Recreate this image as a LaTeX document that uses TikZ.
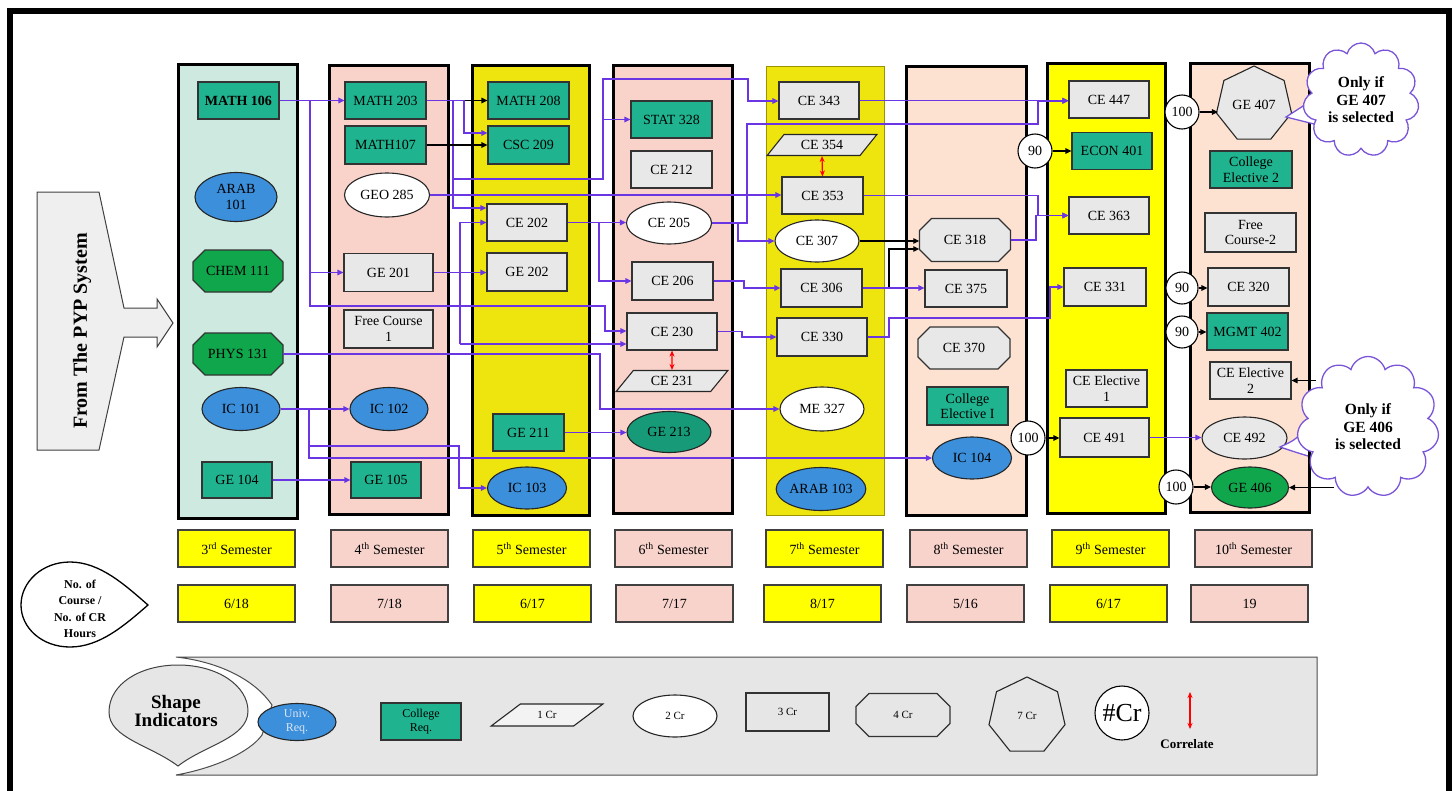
\documentclass[tikz,border=0pt]{standalone}
\usepackage{fontspec}
\setmainfont{Liberation Serif}
\usetikzlibrary{shapes.geometric,shapes.symbols,arrows.meta,calc}

\definecolor{cMint}{HTML}{CDE9E0}
\definecolor{cPink}{HTML}{F9D3CA}
\definecolor{cYel}{HTML}{EEE50F}
\definecolor{cOlive}{HTML}{9A9400}
\definecolor{cYelB}{HTML}{FFFF00}
\definecolor{cPeach}{HTML}{FDE2D2}
\definecolor{cBox}{HTML}{E8E8E8}
\definecolor{cTeal}{HTML}{1FB48F}
\definecolor{cGreen}{HTML}{0FA64C}
\definecolor{cDTeal}{HTML}{169A78}
\definecolor{cBlue}{HTML}{3B8FDB}
\definecolor{cLine}{HTML}{6A35E3}
\definecolor{cCloud}{HTML}{7A55D8}
\definecolor{cLeg}{HTML}{E6E6E6}
\definecolor{cSemY}{HTML}{FFFF00}
\definecolor{cSemP}{HTML}{F8D3CC}
\definecolor{cPyp}{HTML}{EFEFEF}
\definecolor{cUni}{HTML}{DCE6F4}

\newcommand{\octpath}[6]{%
 \filldraw[fill=#6, draw=black!80, line width=1.1pt]
  (#1-#3/2+#5,#2-#4/2) -- (#1+#3/2-#5,#2-#4/2) -- (#1+#3/2,#2-#4/2+#5) --
  (#1+#3/2,#2+#4/2-#5) -- (#1+#3/2-#5,#2+#4/2) -- (#1-#3/2+#5,#2+#4/2) --
  (#1-#3/2,#2+#4/2-#5) -- (#1-#3/2,#2-#4/2+#5) -- cycle;}

\tikzset{
 sz/.style 2 args={minimum width=#1pt, minimum height=#2pt},
 lbl/.style={font=\fontsize{14}{15.5}\selectfont, align=center, inner sep=0pt},
 rbox/.style={lbl, rectangle, draw=black!80, line width=1.1pt, fill=cBox},
 tbox/.style={rbox, fill=cTeal},
 ell/.style={lbl, ellipse, draw=black!85, line width=1.1pt},
 oct/.style={lbl, rectangle},
 para/.style={lbl, trapezium, trapezium left angle=45, trapezium right angle=135,
   trapezium stretches=true, draw=black!85, line width=1.1pt, fill=cBox},
 hept/.style={lbl, regular polygon, regular polygon sides=7, draw=black!85,
   line width=1.1pt, fill=cBox},
 crc/.style={lbl, circle, draw=black, line width=1.1pt, fill=white},
 col/.style={draw=black, line width=3pt},
 sem/.style={draw=black!75, line width=1.1pt, minimum width=117pt, minimum height=37pt,
   font=\fontsize{14}{16}\selectfont, inner sep=0pt},
 conn/.style={draw=cLine, line width=1.3pt, -{Triangle[length=6pt,width=5.5pt]}},
 bconn/.style={draw=black, line width=1.3pt, -{Triangle[length=6pt,width=5.5pt]}},
 corr/.style={draw=red, line width=1.2pt,
   {Stealth[length=6pt,width=5pt]}-{Stealth[length=6pt,width=5pt]}},
 cloudn/.style={cloud, cloud puffs=11, cloud ignores aspect, draw=cCloud,
   line width=1.3pt, fill=white, align=center,
   font=\bfseries\fontsize{15.5}{17.5}\selectfont, inner sep=0pt},
 bold/.style={font=\bfseries\fontsize{14}{15.5}\selectfont},
 leg/.style={font=\fontsize{12}{13.5}\selectfont}
}

\begin{document}
\begin{tikzpicture}[x=1pt,y=-1pt]
\useasboundingbox (0,0) rectangle (1456,790);
\draw[line width=6pt] (10,11) rectangle (1449,806);

% ---------- semester columns
\filldraw[col, fill=cMint] (178,64) rectangle (297,518);
\filldraw[col, fill=cPink] (329,65) rectangle (448,514);
\filldraw[col, fill=cYel] (472,65) rectangle (589,515);
\filldraw[col, fill=cPink] (613,65) rectangle (732,513);
\filldraw[fill=cYel, draw=cOlive, line width=1pt] (766,66) rectangle (884,515);
\filldraw[col, fill=cPeach] (906,66) rectangle (1026,515);
\filldraw[col, fill=cYelB] (1047,63) rectangle (1165,513);
\filldraw[col, fill=cPeach] (1190,63) rectangle (1309,512);

% ---------- From the PYP system
\filldraw[fill=cPyp, draw=black!75, line width=1pt]
 (37,192) -- (99,192) -- (124,308) -- (157,308) -- (157,299) -- (173,323) --
 (157,347) -- (157,337) -- (124,337) -- (99,450) -- (37,450) -- cycle;
\node[rotate=90, font=\bfseries\fontsize{20}{22}\selectfont] (pyp) at (82,331) {From The PYP System};

% ---------- 3rd semester
\node[tbox, sz={81}{37}, bold] (MATH106) at (238.5,100.5) {MATH 106};
\node[ell, fill=cBlue, sz={82}{49}] (ARAB101) at (236,197) {ARAB\\101};
\octpath{238}{271}{90}{42}{12}{cGreen}
\node[oct, sz={90}{42}] (CHEM111) at (238,271) {CHEM 111};
\octpath{238}{354}{90}{42}{12}{cGreen}
\node[oct, sz={90}{42}] (PHYS131) at (238,354) {PHYS 131};
\node[ell, fill=cBlue, sz={78}{43}] (IC101) at (241,409) {IC 101};
\node[tbox, sz={70}{36}] (GE104) at (237,480) {GE 104};

% ---------- 4th semester
\node[tbox, sz={81}{37}] (MATH203) at (385.5,100.5) {MATH 203};
\node[tbox, sz={81}{38}] (MATH107) at (385.5,145) {MATH107};
\node[ell, fill=white, sz={85}{44}] (GEO285) at (387,195) {GEO 285};
\node[rbox, sz={89}{38}] (GE201) at (388.5,272.5) {GE 201};
\node[rbox, sz={89}{38}] (FC1) at (388.5,329) {Free Course\\1};
\node[ell, fill=cBlue, sz={78}{43}] (IC102) at (389,409) {IC 102};
\node[tbox, sz={70}{36}] (GE105) at (386,480) {GE 105};

% ---------- 5th semester
\node[tbox, sz={81}{37}] (MATH208) at (528.5,100.5) {MATH 208};
\node[tbox, sz={81}{38}] (CSC209) at (528.5,145) {CSC 209};
\node[rbox, sz={80}{37}] (CE202) at (527,222.5) {CE 202};
\node[rbox, sz={80}{38}] (GE202) at (527,272) {GE 202};
\node[tbox, sz={71}{37}] (GE211) at (528.5,432.5) {GE 211};
\node[ell, fill=cBlue, sz={79}{42}] (IC103) at (527,488) {IC 103};

% ---------- 6th semester
\node[tbox, sz={81}{37}] (STAT328) at (671.5,119.5) {STAT 328};
\node[rbox, sz={81}{37}] (CE212) at (671.5,169.5) {CE 212};
\node[ell, fill=white, sz={85}{42}] (CE205) at (669,223) {CE 205};
\node[rbox, sz={81}{38}] (CE206) at (672.5,281) {CE 206};
\node[rbox, sz={90}{37}] (CE230) at (672,331.5) {CE 230};
\node[para, sz={112}{21}] (CE231) at (672,381) {CE 231};
\node[ell, fill=cDTeal, sz={84}{41}] (GE213) at (669,432) {GE 213};

% ---------- 7th semester
\node[rbox, sz={80}{37}] (CE343) at (819,100.5) {CE 343};
\node[para, sz={110}{21}] (CE354) at (822,145) {CE 354};
\node[rbox, sz={81}{37}] (CE353) at (822.5,195.5) {CE 353};
\node[ell, fill=white, sz={84}{42}] (CE307) at (817,241) {CE 307};
\node[rbox, sz={81}{38}] (CE306) at (821.5,288) {CE 306};
\node[rbox, sz={90}{38}] (CE330) at (822,337) {CE 330};
\node[ell, fill=white, sz={84}{44}] (ME327) at (822,409) {ME 327};
\node[ell, fill=cBlue, sz={79}{43}] (ARAB103) at (821,489) {ARAB 103};

% ---------- 8th semester
\octpath{965}{240}{91}{43}{12}{cBox}
\node[oct, sz={91}{43}] (CE318) at (965,240) {CE 318};
\node[rbox, sz={82}{37}] (CE375) at (966,288.5) {CE 375};
\octpath{964}{348}{92}{42}{12}{cBox}
\node[oct, sz={92}{42}] (CE370) at (964,348) {CE 370};
\node[tbox, sz={81}{38}] (CElec1) at (967.5,406) {College\\Elective I};
\node[ell, fill=cBlue, sz={79}{42}] (IC104) at (972,458) {IC 104};

% ---------- 9th semester
\node[rbox, sz={80}{37}] (CE447) at (1109,99.5) {CE 447};
\node[tbox, sz={80}{37}] (ECON401) at (1112,151) {ECON 401};
\node[rbox, sz={80}{37}] (CE363) at (1109,215.5) {CE 363};
\node[rbox, sz={82}{38}] (CE331) at (1105,287) {CE 331};
\node[rbox, sz={81}{37}] (CEE1) at (1106.5,388.5) {CE Elective\\1};
\node[rbox, sz={89}{39}] (CE491) at (1104.5,437.5) {CE 491};

% ---------- 10th semester
\node[hept, minimum size=77pt] (GE407) at (1254,104.5) {GE 407};
\node[tbox, sz={82}{37}] (CElec2) at (1251,169.5) {College\\Elective 2};
\node[rbox, sz={91}{39}] (FC2) at (1250.5,232.5) {Free\\Course-2};
\node[rbox, sz={81}{38}] (CE320) at (1248.5,287) {CE 320};
\node[tbox, sz={81}{37}] (MGMT402) at (1247.5,331.5) {MGMT 402};
\node[rbox, sz={81}{37}] (CEE2) at (1250.5,380.5) {CE Elective\\2};
\node[ell, fill=cBox, sz={85}{42}] (CE492) at (1244.5,438) {CE 492};
\node[ell, fill=cGreen, sz={77}{41}] (GE406) at (1250,487.5) {GE 406};

% ---------- credit circles
\node[crc, minimum size=34pt] (c100a) at (1182,112) {100};
\node[crc, minimum size=34pt] (c90a) at (1035,151) {90};
\node[crc, minimum size=32pt] (c90b) at (1182,288) {90};
\node[crc, minimum size=32pt] (c90c) at (1182,332) {90};
\node[crc, minimum size=34pt] (c100b) at (1028,438) {100};
\node[crc, minimum size=34pt] (c100c) at (1176,487) {100};

% ---------- clouds
\filldraw[draw=cCloud, fill=white, line width=1.3pt]
 (1312,100) .. controls (1300,108) .. (1286,117) .. controls (1300,121) .. (1314,124);
\node[cloudn, sz={116}{114}] (cloud1) at (1361,100) {Only if\\GE 407\\is selected};
\filldraw[draw=cCloud, fill=white, line width=1.3pt]
 (1306,428) .. controls (1295,440) .. (1280,447) .. controls (1295,452) .. (1308,456);
\node[cloudn, sz={142}{141}] (cloud2) at (1368,427) {Only if\\GE 406\\is selected};
\coordinate (cl2a) at (1316,380.5);
\coordinate (cl2b) at (1334,487.5);

% ---------- connectors
\draw[conn] (MATH106.east) -- (MATH203.west);
\draw[conn] (MATH106.east) -| (310,272.5) -- (GE201.west);
\draw[conn] (MATH106.east) -| (310,306) -- (605,306) |- (CE230.west |- 0,331);
\draw[bconn] (MATH203.east) -- (MATH208.west);
\draw[conn] (MATH203.east) -| (464,133) -- (CSC209.west |- 0,133);
\draw[conn] (MATH203.east) -| (453,208) -- (CE202.west |- 0,208);
\draw[conn] (MATH203.east) -| (453,179) -- (603,179) |- (STAT328.west);
\draw[conn] (MATH203.east) -| (453,179) -- (603,179) -- (603,79) -| (748,101) -- (CE343.west |- 0,101);
\draw[bconn] (MATH107.east) -- (CSC209.west |- MATH107.east);
\draw[conn] (GEO285.east) -- (CE353.west |- GEO285.east);
\coordinate (j460) at (460,344);
\draw[conn] (j460) |- (CE202.west);
\draw[conn] (j460) -- (CE230.west |- j460);
\draw[conn] (CE202.east) -- (CE205.west |- CE202.east);
\draw[conn] (CE202.east) -| (599,281) -- (CE206.west);
\draw[conn] (GE201.east) -- (GE202.west |- GE201.east);
\draw[conn] (CE205.east) -| (747,124) -- (1038,124) |- (CE447.west |- 0,101);
\draw[conn] (CE205.east) -| (738,241) -- (CE307.west);
\draw[conn] (CE343.east) -- (CE447.west |- CE343.east);
\draw[conn] (CE353.east) -| (1038,215.5) -- (CE363.west);
\draw[conn] (CE318.east) -| (1036,215.5) -- (CE363.west);
\draw[bconn] (CE307.east) -- (CE318.west |- CE307.east);
\draw[bconn] (CE306.east) -| (889,249) -- (CE318.west |- 0,249);
\draw[conn] (CE306.east) -- (CE375.west |- CE306.east);
\draw[conn] (CE206.east) -| (744,288) -- (CE306.west);
\draw[conn] (CE230.east) -| (742,337) -- (CE330.west);
\draw[conn] (CE330.east) -| (889,318) -- (1050,318) |- (CE331.west);
\draw[conn] (PHYS131.east) -| (600,409) -- (ME327.west);
\draw[conn] (IC101.east) -- (IC102.west);
\draw[conn] (IC101.east) -| (309,446) -- (459,446) |- (IC103.west);
\draw[conn] (IC101.east) -| (309,458) -- (IC104.west);
\draw[conn] (GE104.east) -- (GE105.west);
\draw[conn] (GE211.east) -- (GE213.west |- GE211.east);
\draw[conn] (CE491.east) -- (CE492.west |- CE491.east);
\draw[corr] (CE354.south) -- (CE353.north);
\draw[corr] (CE230.south) -- (CE231.north);
\draw[bconn] (c100a.east) -- (GE407.west |- c100a.east);
\draw[bconn] (c90a.east) -- (ECON401.west |- c90a.east);
\draw[bconn] (c90b.east) -- (CE320.west |- c90b.east);
\draw[bconn] (c90c.east) -- (MGMT402.west |- c90c.east);
\draw[bconn] (c100b.east) -- (CE491.west |- c100b.east);
\draw[bconn] (c100c.east) -- (GE406.west |- c100c.east);
\draw[bconn] (cl2a) -- (CEE2.east);
\draw[bconn] (cl2b) -- (GE406.east);

% ---------- semester rows
\node[sem, fill=cSemY] (s3) at (236.5,548.5) {3\textsuperscript{rd} Semester};
\node[sem, fill=cSemP] (s4) at (389.5,548.5) {4\textsuperscript{th} Semester};
\node[sem, fill=cSemY] (s5) at (531.5,548.5) {5\textsuperscript{th} Semester};
\node[sem, fill=cSemP] (s6) at (673.5,548.5) {6\textsuperscript{th} Semester};
\node[sem, fill=cSemY] (s7) at (824.5,548.5) {7\textsuperscript{th} Semester};
\node[sem, fill=cSemP] (s8) at (968.5,548.5) {8\textsuperscript{th} Semester};
\node[sem, fill=cSemY] (s9) at (1110.5,548.5) {9\textsuperscript{th} Semester};
\node[sem, fill=cSemP] (s10) at (1253.5,548.5) {10\textsuperscript{th} Semester};

\node[sem, fill=cSemY] (n3) at (236.5,603.5) {6/18};
\node[sem, fill=cSemP] (n4) at (389.5,603.5) {7/18};
\node[sem, fill=cSemY] (n5) at (532.5,603.5) {6/17};
\node[sem, fill=cSemP] (n6) at (674.5,603.5) {7/17};
\node[sem, fill=cSemY] (n7) at (822.5,603.5) {8/17};
\node[sem, fill=cSemP] (n8) at (965.5,603.5) {5/16};
\node[sem, fill=cSemY] (n9) at (1108.5,603.5) {6/17};
\node[sem, fill=cSemP] (n10) at (1249.5,603.5) {19};

% teardrop: No. of course
\draw[line width=1.3pt, fill=white]
 (148,605) .. controls (125,585) and (100,562) .. (70,562)
 .. controls (42,562) and (21,582) .. (21,605)
 .. controls (21,628) and (42,647) .. (70,647)
 .. controls (100,647) and (125,625) .. (148,605) -- cycle;
\node[font=\bfseries\fontsize{12}{16.5}\selectfont, align=center] (noc) at (80,609) {No. of\\Course /\\No. of CR\\Hours};

% ---------- legend
\filldraw[fill=cLeg, draw=black!70, line width=1pt]
 (176,657) -- (1317,657) -- (1317,775) -- (176,775)
 .. controls (215,768) and (250,752) .. (262,735) -- (272,705)
 .. controls (255,680) and (220,662) .. (176,657) -- cycle;
\filldraw[fill=cLeg, draw=black!75, line width=1pt]
 (178,766) .. controls (150,745) and (109,738) .. (109,712)
 .. controls (109,684) and (140,665) .. (178,665)
 .. controls (218,665) and (248,686) .. (248,711)
 .. controls (248,738) and (205,745) .. (178,766) -- cycle;
\node[font=\bfseries\fontsize{19}{18}\selectfont, align=center] (shapeind) at (176,711) {Shape\\Indicators};
\node[ell, fill=cBlue, sz={78}{37}, leg, text=cUni] (legU) at (297,722) {Univ.\\Req.};
\node[tbox, sz={80}{37}, leg] (legC) at (421,721.5) {College\\Req.};
\node[para, trapezium left angle=35, trapezium right angle=145, fill=cBox!50!white,
  sz={112}{22}, font=\fontsize{11}{12}\selectfont] (leg1) at (547,715) {1 Cr};
\node[ell, fill=white, sz={84}{42}, font=\fontsize{11}{12}\selectfont] (leg2) at (675,716) {2 Cr};
\node[rbox, fill=cLeg, sz={83}{38}, font=\fontsize{11}{12}\selectfont] (leg3) at (787.5,712) {3 Cr};
\octpath{903}{715}{94}{43}{13}{cLeg}
\node[oct, sz={94}{43}, font=\fontsize{11}{12}\selectfont] (leg4) at (903,715) {4 Cr};
\node[hept, fill=cLeg, minimum size=78pt, font=\fontsize{11}{12}\selectfont] (leg7) at (1027,716) {7 Cr};
\node[crc, minimum size=54pt, font=\fontsize{26}{28}\selectfont] (legR) at (1122,713) {\#Cr};
\coordinate (corrA) at (1190,692);
\coordinate (corrB) at (1190,729);
\draw[corr] (corrA) -- (corrB);
\node[font=\bfseries\fontsize{13}{15}\selectfont] (legCorr) at (1187,744) {Correlate};
\end{tikzpicture}
\end{document}
